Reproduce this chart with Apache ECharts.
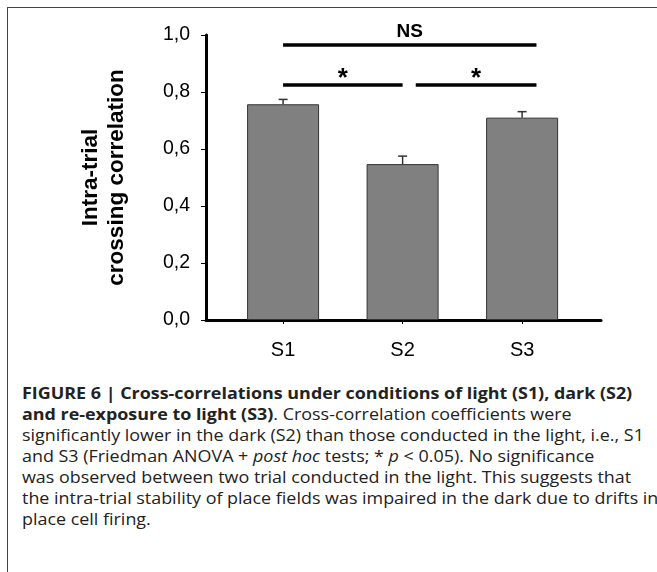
<!DOCTYPE html>
<html>
<head>
<meta charset="utf-8">
<script src="https://cdn.jsdelivr.net/npm/echarts@6/dist/echarts.min.js"></script>
<style>
  html, body { margin: 0; padding: 0; background: #fff; }
  #wrap { position: relative; width: 657px; height: 572px; overflow: hidden; }
  #frame {
    position: absolute; left: 7px; top: 7px; right: -2px; bottom: -2px;
    border-top: 1px solid #444; border-left: 1px solid #444;
  }
  #chart { position: absolute; left: 0; top: 0; width: 657px; height: 360px; }
  #caption {
    position: absolute; left: 22px; top: 382px; width: 640px;
    font-family: "Open Sans", "Liberation Sans", sans-serif;
    font-size: 16.5px; line-height: 21px; color: #222;
    white-space: nowrap;
    transform: scaleX(1.085); transform-origin: 0 0;
  }
</style>
</head>
<body>
<div id="wrap">
  <div id="frame"></div>
  <div id="chart"></div>
  <div id="caption">
    <div><b>FIGURE 6 | Cross-correlations under conditions of light (S1), dark (S2)</b></div>
    <div><b>and re-exposure to light (S3)</b>. Cross-correlation coefficients were</div>
    <div>significantly lower in the dark (S2) than those conducted in the light, i.e., S1</div>
    <div>and S3 (Friedman ANOVA + <i>post hoc</i> tests; * <i>p</i> &lt; 0.05). No significance</div>
    <div>was observed between two trial conducted in the light. This suggests that</div>
    <div>the intra-trial stability of place fields was impaired in the dark due to drifts in</div>
    <div>place cell firing.</div>
  </div>
</div>
<script>
// data
const categories = ['S1', 'S2', 'S3']
const positions = [1, 2, 3]
const means = [0.757, 0.547, 0.71]
const errors = [0.017, 0.028, 0.021]
const yTicks = [0, 0.2, 0.4, 0.6, 0.8, 1.0]
// significance brackets: [from, to, level, label]
const brackets = [
  [1.0, 3.12, 0.965, 'NS'],
  [1.0, 2.0, 0.825, '*'],
  [2.11, 3.12, 0.825, '*']
]

const chart = echarts.init(document.getElementById('chart'))

const font = '"Liberation Sans", Arial, sans-serif'

const option = {
  animation: false,
  grid: { left: 206, right: 56, top: 35, bottom: 40 },
  xAxis: {
    type: 'value',
    min: 0.355,
    max: 3.66,
    axisLine: { show: true, lineStyle: { color: '#000', width: 3 } },
    axisTick: { show: true, customValues: positions, length: 4, lineStyle: { color: '#000', width: 1 } },
    axisLabel: {
      customValues: positions,
      formatter: v => categories[positions.indexOf(Math.round(v))] || '',
      fontFamily: font,
      fontSize: 20, color: '#000', margin: 20
    },
    splitLine: { show: false }
  },
  yAxis: {
    type: 'value',
    min: yTicks[0],
    max: yTicks[yTicks.length - 1],
    interval: 0.2,
    name: 'Intra-trial\ncrossing correlation',
    nameLocation: 'middle',
    nameGap: 76,
    nameTextStyle: {
      fontFamily: font,
      fontSize: 22.5, fontWeight: 'bold', color: '#000', lineHeight: 26
    },
    axisLine: { show: true, lineStyle: { color: '#000', width: 3 } },
    axisTick: { show: true, length: 5, lineStyle: { color: '#000', width: 1 } },
    axisLabel: {
      formatter: v => v.toFixed(1).replace('.', ','),
      fontFamily: font,
      fontSize: 19.5, color: '#000', margin: 16
    },
    splitLine: { show: false }
  },
  series: [
    {
      type: 'bar',
      barWidth: 72,
      data: positions.map((p, i) => [p, means[i]]),
      itemStyle: { color: '#808080', borderColor: '#333', borderWidth: 1 },
      z: 2
    },
    {
      type: 'custom',
      data: positions.map((p, i) => [p, means[i], means[i] + errors[i]]),
      renderItem(params, api) {
        const top = api.coord([api.value(0), api.value(1)])
        const hi = api.coord([api.value(0), api.value(2)])
        return {
          type: 'group',
          children: [
            { type: 'line', shape: { x1: top[0], y1: top[1], x2: hi[0], y2: hi[1] }, style: { stroke: '#333', lineWidth: 1.5 } },
            { type: 'line', shape: { x1: hi[0] - 4.5, y1: hi[1], x2: hi[0] + 4.5, y2: hi[1] }, style: { stroke: '#333', lineWidth: 1.5 } }
          ]
        }
      },
      z: 3
    },
    {
      type: 'custom',
      data: brackets,
      renderItem(params, api) {
        const a = api.coord([api.value(0), api.value(2)])
        const b = api.coord([api.value(1), api.value(2)])
        const label = brackets[params.dataIndex][3]
        const isStar = label === '*'
        return {
          type: 'group',
          children: [
            { type: 'line', shape: { x1: a[0], y1: a[1], x2: b[0], y2: b[1] }, style: { stroke: '#000', lineWidth: 3.5 } },
            {
              type: 'text',
              x: (a[0] + b[0]) / 2,
              y: a[1] + (isStar ? -6 : -13),
              style: {
                text: label,
                fontFamily: font,
                fontSize: isStar ? 26 : 19,
                fontWeight: 'bold',
                fill: '#000',
                align: 'center',
                verticalAlign: 'middle'
              }
            }
          ]
        }
      },
      z: 4
    }
  ]
}

chart.setOption(option)
</script>
</body>
</html>
